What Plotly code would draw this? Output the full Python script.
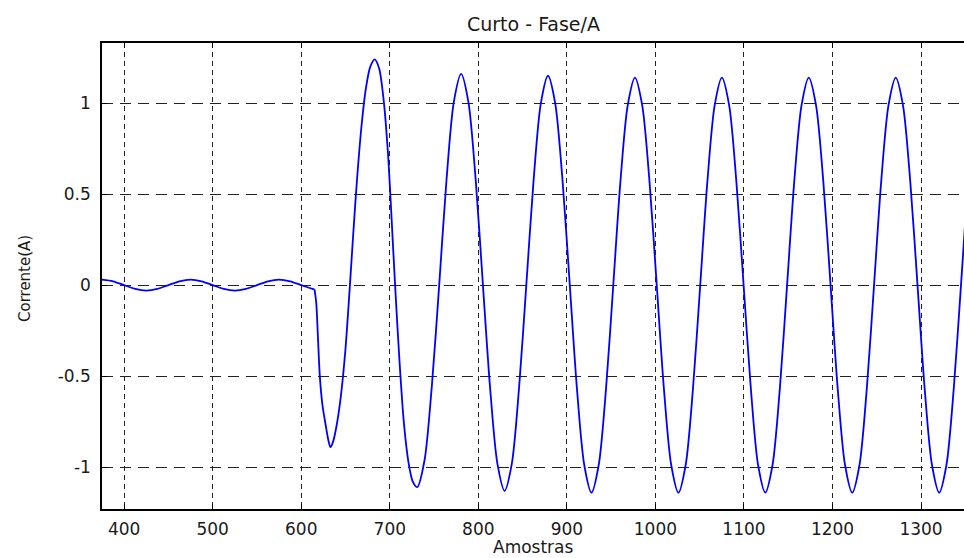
import plotly.graph_objects as go

# ---- data ----
amostras_pre = [375, 387.5, 400, 412.5, 425, 437.5, 450, 462.5, 475, 487.5, 500,
                512.5, 525, 537.5, 550, 562.5, 575, 587.5, 600, 612.5, 615]
corrente_pre = [0.03, 0.021, 0.0, -0.021, -0.03, -0.021, 0.0, 0.021, 0.03, 0.021, 0.0,
                -0.021, -0.03, -0.021, 0.0, 0.021, 0.03, 0.021, 0.0, -0.021, -0.024]

amostras_pos = [615, 617, 619, 621, 624, 628, 631, 633, 636, 640, 644, 647, 650, 652.5,
                655, 659, 663, 668, 673, 678, 683, 688, 693, 698, 702, 706, 711, 716,
                721, 726, 731,
                739.3, 747.5, 755.8, 764.1, 772.3, 780.6,
                788.8, 797.0, 805.2, 813.3, 821.5, 829.7,
                837.9, 846.0, 854.2, 862.4, 870.5, 878.7,
                886.9, 895.1, 903.3, 911.4, 919.6, 927.8,
                936.0, 944.2, 952.4, 960.5, 968.7, 976.9,
                985.1, 993.3, 1001.5, 1009.6, 1017.8, 1026.0,
                1034.2, 1042.4, 1050.6, 1058.7, 1066.9, 1075.1,
                1083.3, 1091.4, 1099.6, 1107.8, 1115.9, 1124.1,
                1132.3, 1140.5, 1148.7, 1156.8, 1165.0, 1173.2,
                1181.4, 1189.6, 1197.8, 1205.9, 1214.1, 1222.3,
                1230.5, 1238.7, 1246.9, 1255.0, 1263.2, 1271.4,
                1279.6, 1287.8, 1296.0, 1304.1, 1312.3, 1320.5,
                1328.7, 1336.9, 1345.1, 1353.2, 1361.4]
corrente_pos = [-0.024, -0.10, -0.30, -0.50, -0.66, -0.78, -0.86, -0.89, -0.86, -0.77,
                -0.64, -0.51, -0.35, -0.18,
                0.0, 0.30, 0.58, 0.87, 1.08, 1.20, 1.24, 1.19, 1.02, 0.72, 0.37, 0.0,
                -0.42, -0.76, -0.97, -1.08, -1.11,
                -0.961, -0.555, 0.0, 0.58, 1.005, 1.16,
                1.005, 0.58, 0.0, -0.565, -0.979, -1.13,
                -0.979, -0.565, 0.0, 0.575, 0.996, 1.15,
                0.996, 0.575, 0.0, -0.57, -0.987, -1.14,
                -0.987, -0.57, 0.0, 0.57, 0.987, 1.14,
                0.987, 0.57, 0.0, -0.57, -0.987, -1.14,
                -0.987, -0.57, 0.0, 0.57, 0.987, 1.14,
                0.987, 0.57, 0.0, -0.57, -0.987, -1.14,
                -0.987, -0.57, 0.0, 0.57, 0.987, 1.14,
                0.987, 0.57, 0.0, -0.57, -0.987, -1.14,
                -0.987, -0.57, 0.0, 0.57, 0.987, 1.14,
                0.987, 0.57, 0.0, -0.57, -0.987, -1.14,
                -0.987, -0.57, 0.0, 0.57, 0.987]

x_ticks = [400, 500, 600, 700, 800, 900, 1000, 1100, 1200, 1300]
y_ticks = [-1, -0.5, 0, 0.5, 1]
y_tick_labels = ["-1", "-0.5", "0", "0.5", "1"]

titulo = "Curto - Fase/A"
rotulo_x = "Amostras"
rotulo_y = "Corrente(A)"

FONT = "DejaVu Sans, Liberation Sans, Arial, sans-serif"
TXT = "#1a1a1a"

fig = go.Figure()
for xs, ys in [(amostras_pre, corrente_pre), (amostras_pos, corrente_pos)]:
    fig.add_trace(go.Scatter(
        x=xs, y=ys, mode="lines",
        line=dict(color="#0000ff", width=1.8, shape="spline", smoothing=0.8),
        showlegend=False, hoverinfo="skip"))

axis_common = dict(
    showline=True, linecolor="black", linewidth=1.5,
    ticks="inside", ticklen=5, tickcolor="black", tickwidth=1,
    showgrid=True, gridcolor="#222222", gridwidth=1.3,
    zeroline=False,
    tickfont=dict(family=FONT, size=17, color=TXT),
)

fig.update_layout(
    width=964, height=558,
    margin=dict(l=102, r=0, t=43, b=49),
    paper_bgcolor="white", plot_bgcolor="white",
    xaxis=dict(range=[375, 1348.5], tickmode="array", tickvals=x_ticks,
               mirror="ticks", griddash="5px,4px", ticklabelstandoff=4,
               **axis_common),
    yaxis=dict(range=[-1.23, 1.33], tickmode="array", tickvals=y_ticks,
               ticktext=y_tick_labels, mirror=False, griddash="11px,7px",
               ticklabelstandoff=6, **axis_common),
    annotations=[
        dict(text=titulo, xref="paper", yref="paper", x=0.5, y=1.0397,
             xanchor="center", yanchor="middle", showarrow=False,
             font=dict(family=FONT, size=19, color=TXT)),
        dict(text=rotulo_x, xref="paper", yref="paper", x=0.5, y=-0.0826,
             xanchor="center", yanchor="middle", showarrow=False,
             font=dict(family=FONT, size=17, color=TXT)),
        dict(text=rotulo_y, xref="paper", yref="paper", x=-0.0893, y=0.4936,
             xanchor="center", yanchor="middle", showarrow=False, textangle=-90,
             font=dict(family=FONT, size=15, color=TXT)),
    ],
)

fig.write_html("out.html")
